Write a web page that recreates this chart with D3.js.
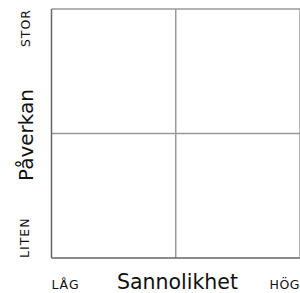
<!DOCTYPE html>
<html>
<head>
<meta charset="utf-8">
<script src="https://cdn.jsdelivr.net/npm/d3@7"></script>
<style>
  html, body { margin: 0; padding: 0; background: #fff; }
  svg { display: block; }
  text { font-family: "DejaVu Sans", sans-serif; fill: #111; }
</style>
</head>
<body>
<svg id="chart" width="300" height="293"></svg>
<script>
// Riskmatris: 2x2 rutnät
const xTicks = ["LÅG", "HÖG"];
const yTicks = ["LITEN", "STOR"];
const xTitle = "Sannolikhet";
const yTitle = "Påverkan";
const gridSteps = [0, 1, 2];

const W = 300, H = 293;
const m = { top: 9, right: 0, bottom: 35, left: 51.5 };

const svg = d3.select('#chart');

const x = d3.scaleLinear().domain([0, 2]).range([m.left, W - m.right]);
const y = d3.scaleLinear().domain([0, 2]).range([H - m.bottom, m.top]);

const grid = svg.append('g');

// inre och övre linjer
grid.selectAll('line.v')
  .data(gridSteps.filter(d => d > 0))
  .enter().append('line')
  .attr('x1', d => x(d)).attr('x2', d => x(d))
  .attr('y1', y(0)).attr('y2', y(2))
  .attr('stroke', '#999').attr('stroke-width', 1.5);

grid.selectAll('line.h')
  .data(gridSteps.filter(d => d > 0))
  .enter().append('line')
  .attr('x1', x(0)).attr('x2', x(2))
  .attr('y1', d => y(d)).attr('y2', d => y(d))
  .attr('stroke', '#999').attr('stroke-width', 1.5);

// axlar
grid.append('line')
  .attr('x1', x(0)).attr('x2', x(0))
  .attr('y1', y(0)).attr('y2', y(2))
  .attr('stroke', '#666').attr('stroke-width', 1.5);
grid.append('line')
  .attr('x1', x(0)).attr('x2', x(2))
  .attr('y1', y(0)).attr('y2', y(0))
  .attr('stroke', '#666').attr('stroke-width', 1.5);

// x-etiketter
svg.append('text')
  .attr('x', x(0)).attr('y', 288.5)
  .attr('font-size', 12.5).attr('letter-spacing', 1)
  .text(xTicks[0]);
svg.append('text')
  .attr('x', W).attr('y', 288.5)
  .attr('text-anchor', 'end')
  .attr('font-size', 12.5).attr('letter-spacing', 0.5)
  .text(xTicks[1]);
svg.append('text')
  .attr('x', 177.5).attr('y', 289)
  .attr('text-anchor', 'middle')
  .attr('font-size', 20.5)
  .text(xTitle);

// y-etiketter (roterade)
svg.append('text')
  .attr('transform', `translate(29,${y(0)}) rotate(-90)`)
  .attr('font-size', 12.5).attr('letter-spacing', 1)
  .text(yTicks[0]);
svg.append('text')
  .attr('transform', `translate(30,${y(2)}) rotate(-90)`)
  .attr('text-anchor', 'end')
  .attr('font-size', 12.5).attr('letter-spacing', 1)
  .text(yTicks[1]);
svg.append('text')
  .attr('transform', `translate(33,135) rotate(-90)`)
  .attr('text-anchor', 'middle')
  .attr('font-size', 20)
  .text(yTitle);
</script>
</body>
</html>
